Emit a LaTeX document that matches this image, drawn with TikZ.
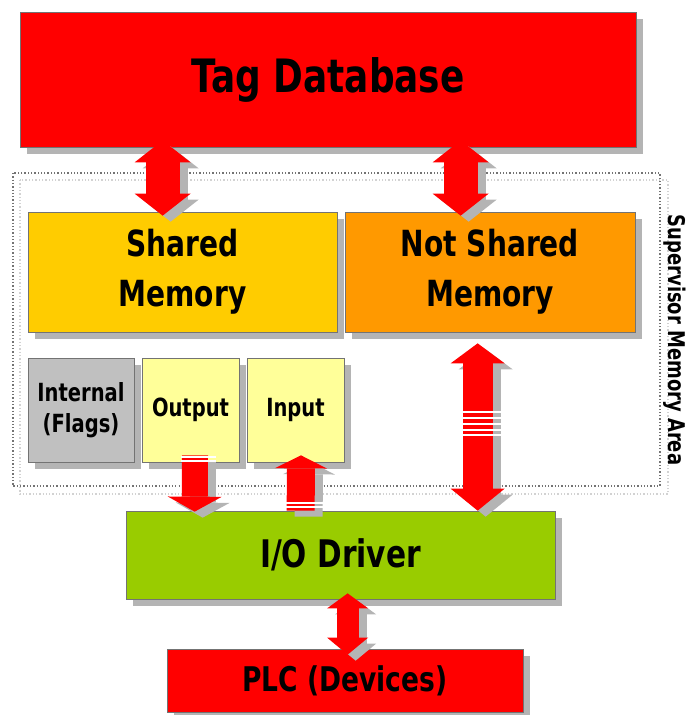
\documentclass[tikz,border=0pt]{standalone}
\usepackage{fontspec}
\setmainfont{DejaVu Sans}[FakeStretch=0.78]
\usetikzlibrary{arrows.meta,calc,shadows}
\definecolor{tagred}{HTML}{FF0000}
\definecolor{sharedc}{HTML}{FFCC00}
\definecolor{notsharedc}{HTML}{FF9900}
\definecolor{flagc}{HTML}{C0C0C0}
\definecolor{ioc}{HTML}{FFFF99}
\definecolor{drvc}{HTML}{99CC00}
\definecolor{shadowc}{HTML}{B4B4B4}
\tikzset{
  box/.style={draw=black!55, line width=0.7pt, inner sep=0pt, align=center,
    drop shadow={shadow xshift=7pt, shadow yshift=-7pt, fill=shadowc, opacity=1}},
  redarrow/.style={draw=tagred, line width=#1},
  arrshadow/.style={draw=shadowc, line width=#1, transform canvas={xshift=8pt,yshift=-6pt}},
  stripe/.style={draw=white, line width=1.1pt},
}
\begin{document}
\begin{tikzpicture}[x=1pt,y=-1pt]
\useasboundingbox (0,0) rectangle (687,715);
% supervisor area
\draw[shadowc!60, dotted, line width=1.3pt] (20,180) rectangle (668,494);
\draw[black!55, dotted, line width=1.3pt] (13,173) rectangle (660,486);
\node[rotate=-90, font=\bfseries\fontsize{23}{28}\selectfont] (sup) at (675,340) {Supervisor Memory Area};
% boxes
\node[box, fill=tagred, minimum width=616pt, minimum height=135pt, font=\bfseries\fontsize{46}{50}\selectfont] (tag) at (328,79.5) {Tag Database};
\node[box, fill=sharedc, minimum width=309pt, minimum height=120pt, font=\bfseries\fontsize{36}{50}\selectfont] (shared) at (182.5,272) {Shared\\Memory};
\node[box, fill=notsharedc, minimum width=290pt, minimum height=120pt, font=\bfseries\fontsize{36}{50}\selectfont] (notshared) at (490,272) {Not Shared\\Memory};
\node[box, fill=flagc, minimum width=106pt, minimum height=104pt, font=\bfseries\fontsize{25}{31}\selectfont] (internal) at (81,410) {Internal\\(Flags)};
\node[box, fill=ioc, minimum width=97pt, minimum height=104pt, font=\bfseries\fontsize{25}{30}\selectfont] (output) at (190.5,410) {Output};
\node[box, fill=ioc, minimum width=97pt, minimum height=104pt, font=\bfseries\fontsize{25}{30}\selectfont] (input) at (295.5,410) {Input};
\node[box, fill=drvc, minimum width=429pt, minimum height=88pt, font=\bfseries\fontsize{38}{44}\selectfont] (io) at (340.5,555) {I/O Driver};
\node[box, fill=tagred, minimum width=356pt, minimum height=63pt, font=\bfseries\fontsize{34}{40}\selectfont] (plc) at (345,680.5) {PLC (Devices)};
% arrow end points
\coordinate (a1t) at ($(tag.south west)+(143,-7)$);
\coordinate (a1b) at ($(shared.north west)+(135,4)$);
\coordinate (a2t) at ($(tag.south west)+(441,-7)$);
\coordinate (a2b) at ($(notshared.north west)+(116,4)$);
\coordinate (a3t) at ($(notshared.south west)+(133,11)$);
\coordinate (a3b) at ($(io.north west)+(352,0)$);
\coordinate (a4t) at ($(output.south)+(4.5,-7)$);
\coordinate (a4b) at ($(io.north west)+(69,1)$);
\coordinate (a5b) at ($(io.north west)+(175,0)$);
\coordinate (a5t) at ($(input.south)+(5.5,-7)$);
\coordinate (a6t) at ($(io.south west)+(222,-6)$);
\coordinate (a6b) at ($(plc.north west)+(181,6)$);
% shadows of arrows
\draw[arrshadow=34pt, {Triangle[width=56pt,length=22pt,line width=0pt]}-{Triangle[width=56pt,length=22pt,line width=0pt]}] (a1t) -- (a1b);
\draw[arrshadow=34pt, {Triangle[width=56pt,length=22pt,line width=0pt]}-{Triangle[width=56pt,length=22pt,line width=0pt]}] (a2t) -- (a2b);
\draw[arrshadow=30pt, {Triangle[width=54pt,length=20pt,line width=0pt]}-{Triangle[width=54pt,length=22pt,line width=0pt]}] (a3t) -- (a3b);
\draw[arrshadow=26pt, -{Triangle[width=54pt,length=15pt,line width=0pt]}] (a4t) -- (a4b);
\draw[arrshadow=28pt, -{Triangle[width=52pt,length=13pt,line width=0pt]}] (a5b) -- (a5t);
\draw[arrshadow=22pt, {Triangle[width=41pt,length=15pt,line width=0pt]}-{Triangle[width=41pt,length=17pt,line width=0pt]}] (a6t) -- (a6b);
% arrows
\draw[redarrow=34pt, {Triangle[width=56pt,length=22pt,line width=0pt]}-{Triangle[width=56pt,length=22pt,line width=0pt]}] (a1t) -- (a1b);
\draw[redarrow=34pt, {Triangle[width=56pt,length=22pt,line width=0pt]}-{Triangle[width=56pt,length=22pt,line width=0pt]}] (a2t) -- (a2b);
\draw[redarrow=30pt, {Triangle[width=54pt,length=20pt,line width=0pt]}-{Triangle[width=54pt,length=22pt,line width=0pt]}] (a3t) -- (a3b);
\draw[redarrow=26pt, -{Triangle[width=54pt,length=15pt,line width=0pt]}] (a4t) -- (a4b);
\draw[redarrow=28pt, -{Triangle[width=52pt,length=13pt,line width=0pt]}] (a5b) -- (a5t);
\draw[redarrow=22pt, {Triangle[width=41pt,length=15pt,line width=0pt]}-{Triangle[width=41pt,length=17pt,line width=0pt]}] (a6t) -- (a6b);
% white stripes
\foreach \yy in {412,418,424,430,435} \draw[stripe] (462,\yy) -- (502,\yy);
\foreach \yy in {457,461} \draw[stripe] (181,\yy) -- (216,\yy);
\foreach \yy in {503,507} \draw[stripe] (286,\yy) -- (323,\yy);
\end{tikzpicture}
\end{document}
